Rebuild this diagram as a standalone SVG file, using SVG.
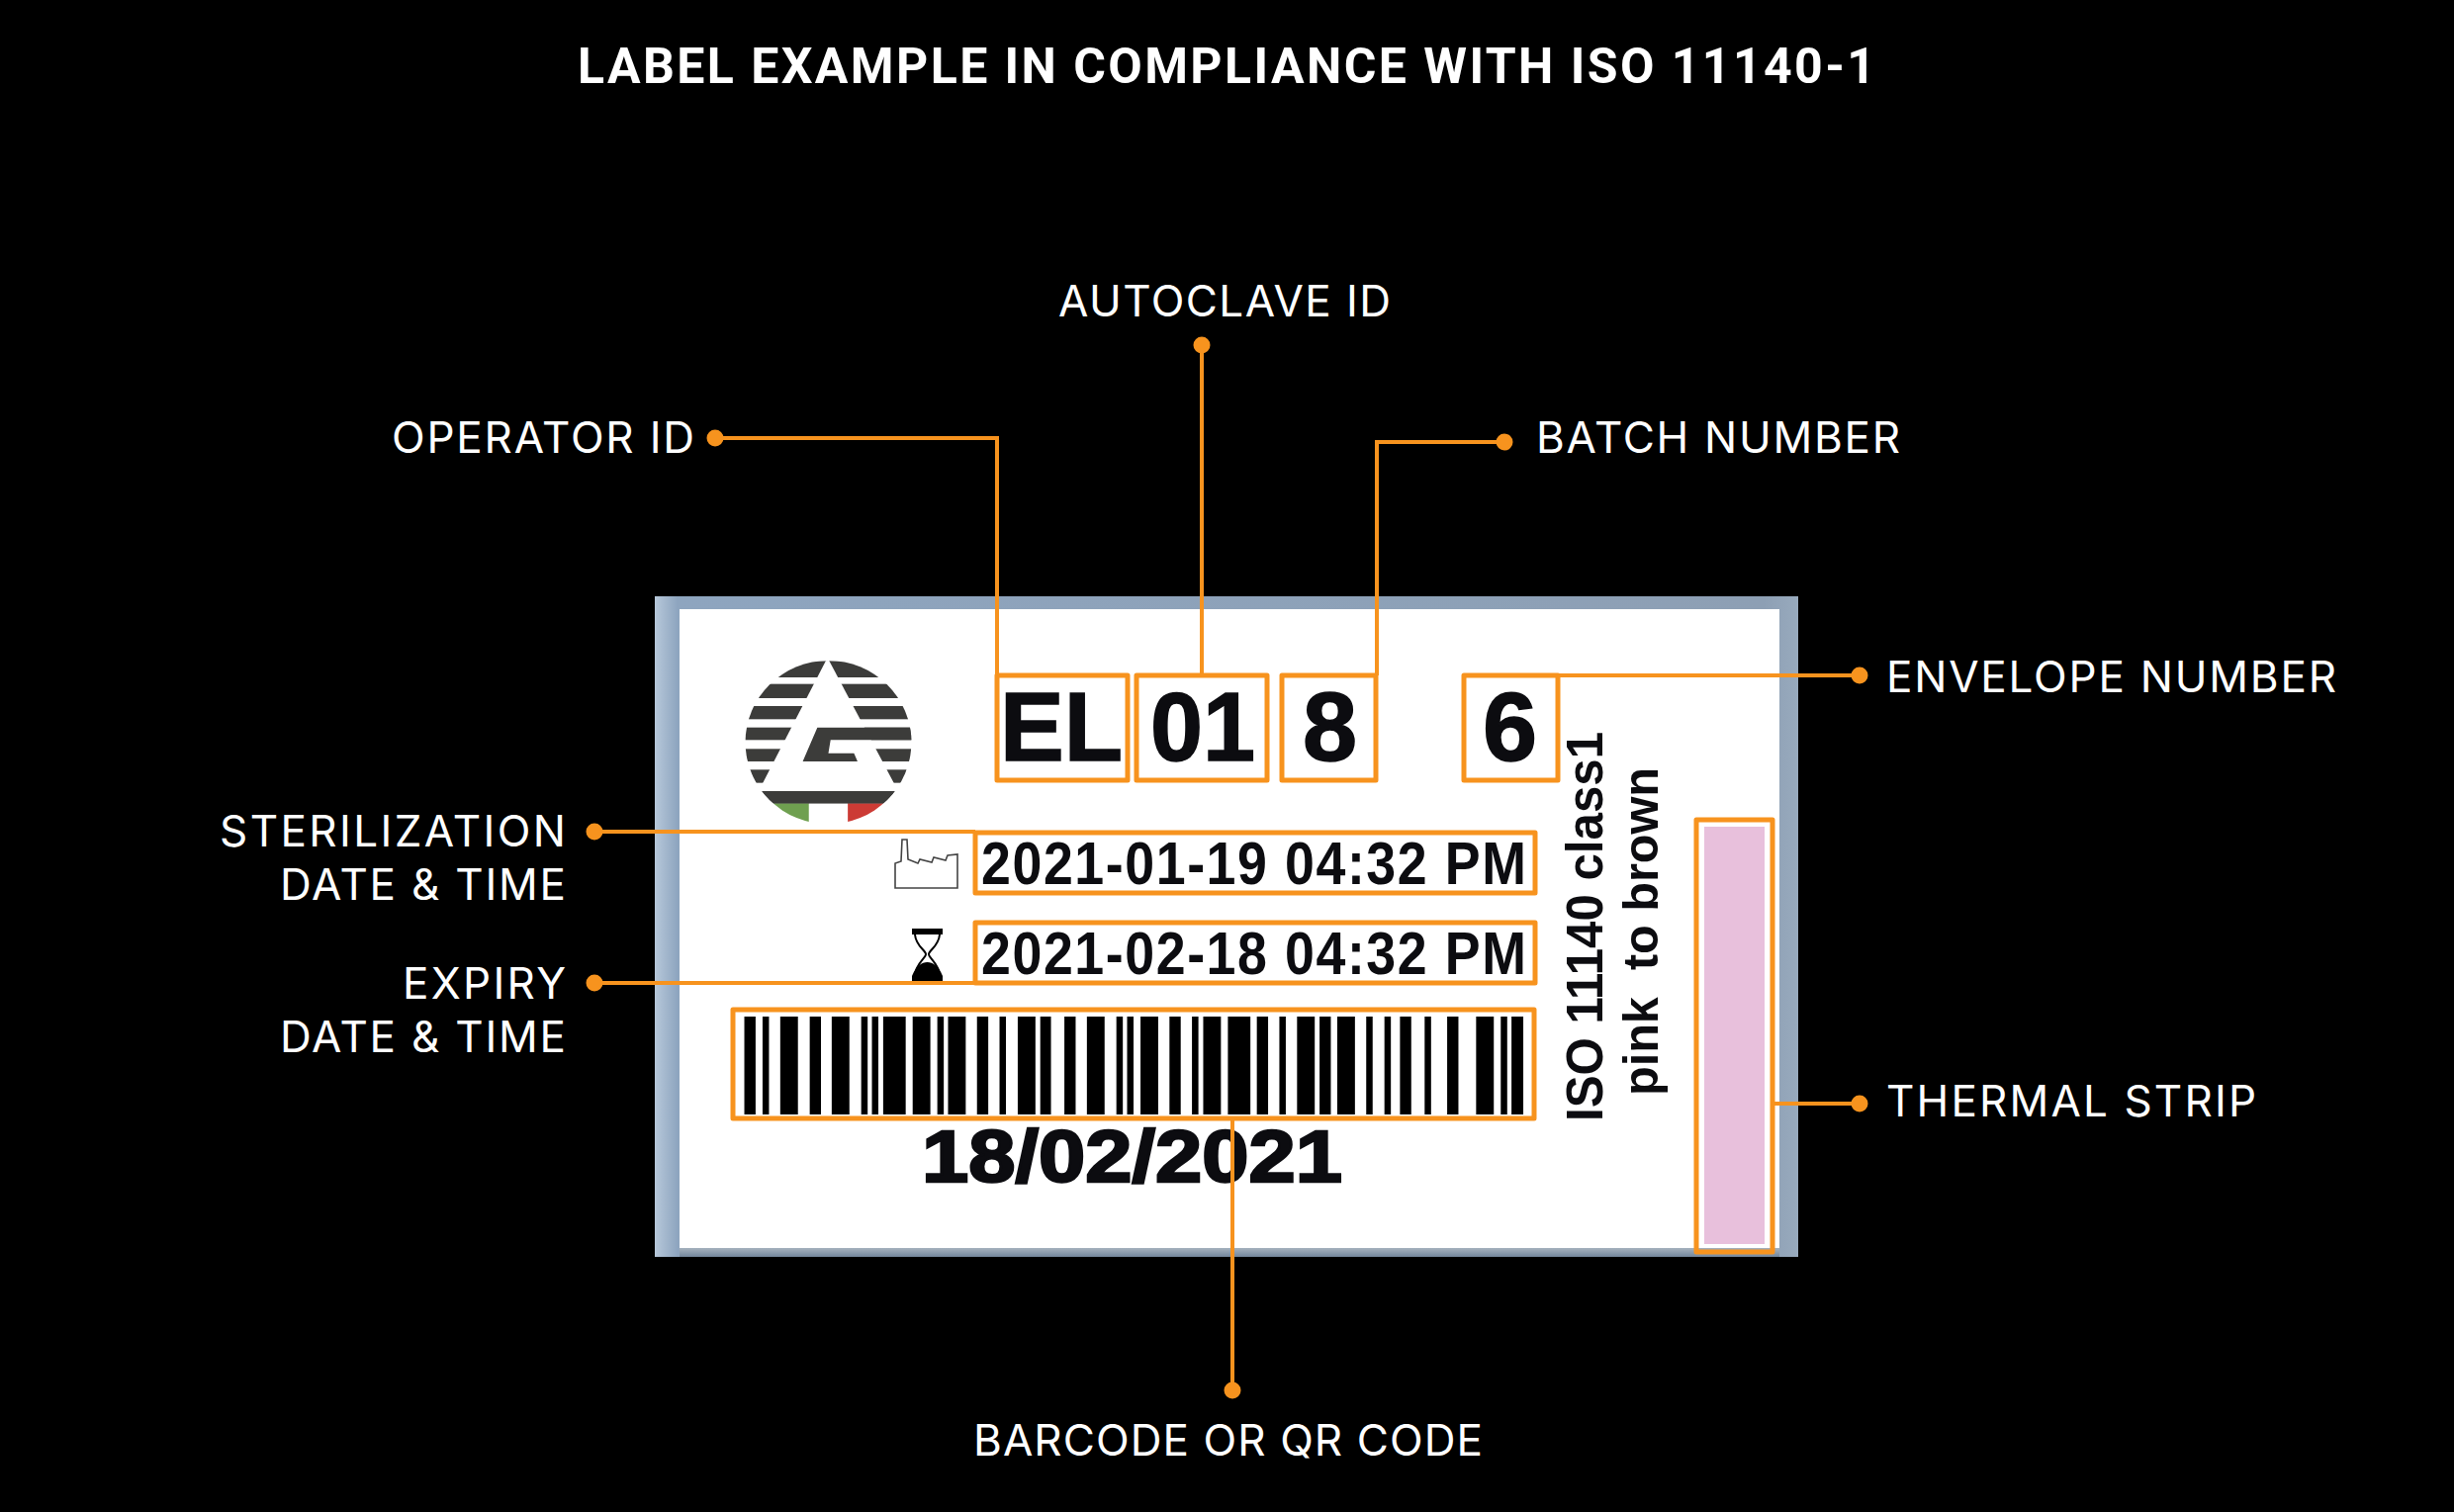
<svg xmlns="http://www.w3.org/2000/svg" width="2481" height="1529" viewBox="0 0 2481 1529">
<style>
.t{font-family:Inter,Roboto,"Liberation Sans",sans-serif;fill:#fff;font-size:44px;font-weight:400}
.h{font-family:Roboto,"Liberation Sans",sans-serif;fill:#fff;font-weight:700;font-size:50px}
.a{font-family:"Liberation Sans",Arial,sans-serif;font-weight:700;fill:#0c0c10}
.k{stroke:#0c0c10;stroke-width:1.5}
.b{fill:none;stroke:#f7931e;stroke-width:5;stroke-linejoin:round}
.l{fill:none;stroke:#f7931e;stroke-width:4}
.d{fill:#f7931e}
</style>
<defs>
<linearGradient id="frame" x1="0" x2="1" y1="0" y2="0"><stop offset="0" stop-color="#b7c8da"/><stop offset=".02" stop-color="#8ea5bf"/><stop offset=".97" stop-color="#8d9fb4"/><stop offset="1" stop-color="#98aabd"/></linearGradient>
<linearGradient id="bot" x1="0" x2="0" y1="0" y2="1"><stop offset="0" stop-color="#a6b2be"/><stop offset="1" stop-color="#74879c"/></linearGradient>
<clipPath id="lc"><ellipse cx="420" cy="482" rx="188" ry="248"/></clipPath>
</defs>
<rect width="2481" height="1529" fill="#000"/>
<text class="h" x="584" y="84" textLength="1312">LABEL EXAMPLE IN COMPLIANCE WITH ISO 11140-1</text>

<g id="label-card">
<rect x="662" y="603" width="1156" height="668" fill="url(#frame)"/>
<rect x="687" y="1262" width="1112" height="9" fill="url(#bot)"/>
<rect x="687" y="616" width="1112" height="646" fill="#fff"/>
<g id="logo" transform="translate(650 590) scale(.4464 .3333)">
<g clip-path="url(#lc)">
<g fill="#3c3c3a">
<rect x="200" y="235" width="440" height="50"/><rect x="200" y="305" width="440" height="43"/><rect x="200" y="372" width="440" height="40"/><rect x="200" y="437" width="440" height="38"/><rect x="200" y="502" width="440" height="38"/><rect x="200" y="565" width="440" height="40"/><rect x="200" y="630" width="440" height="38"/>
</g>
<path fill="#fff" d="M418 225 L262 630 H578 Z"/>
<path fill="#3c3c3a" d="M395 437H620V475H425L420 515H478L486 540H362Z"/>
<rect x="200" y="630" width="440" height="38" fill="#3c3c3a"/>
<rect x="200" y="668" width="176" height="70" fill="#6fa050"/>
<rect x="376" y="668" width="88" height="70" fill="#fff"/>
<rect x="464" y="668" width="176" height="70" fill="#cc3b35"/>
</g>
</g>
<path id="factory" fill="none" stroke="#444" stroke-width="1.6" d="M905 898V873L911 871 912 849H917L918 869 928 873 930 869 942 872 944 867 956 870 958 865 968 864V898Z"/>
<g id="hourglass" transform="translate(922 939)">
<rect x="0" y="0" width="31" height="6" fill="#000"/>
<path d="M3 6C4 18 14 22 14 26C14 30 3 36 3 48M28 6C27 18 17 22 17 26C17 30 28 36 28 48" fill="none" stroke="#000" stroke-width="2"/>
<path d="M0 53V48C4 38 10 34 15.500 34C21 34 27 38 31 48V53Z" fill="#000"/>
</g>
<text class="a k" x="1011" y="769" font-size="99" textLength="124" lengthAdjust="spacingAndGlyphs">EL</text>
<text class="a k" x="1163" y="769" font-size="99" textLength="106" lengthAdjust="spacingAndGlyphs">01</text>
<text class="a k" x="1317" y="769" font-size="99">8</text>
<text class="a k" x="1499" y="769" font-size="99">6</text>
<text class="a" transform="translate(992 894) scale(.88 1)" font-size="61" textLength="626">2021-01-19 04:32 PM</text>
<text class="a" transform="translate(992 985) scale(.88 1)" font-size="61" textLength="626">2021-02-18 04:32 PM</text>
<text class="a" x="932" y="1195" font-size="74" textLength="425" lengthAdjust="spacingAndGlyphs" stroke="#0c0c10" stroke-width="2.500">18/02/2021</text>
<text class="a" transform="translate(1620 1134) rotate(-90)" font-size="52" textLength="394" lengthAdjust="spacingAndGlyphs">ISO 11140 class1</text>
<text class="a" transform="translate(1676 1108) rotate(-90)" font-size="50" textLength="332" lengthAdjust="spacingAndGlyphs" xml:space="preserve">pink  to brown</text>
<path id="barcode-bars" transform="translate(720 1028) scale(.542 1)" fill="#000" d="M60 0h21v99h-21zM94 0h12v99h-12zM127 0h33v99h-33zM182 0h21v99h-21zM223 0h33v99h-33zM278 0h12v99h-12zM298 0h12v99h-12zM319 0h42v99h-42zM374 0h33v99h-33zM420 0h12v99h-12zM440 0h33v99h-33zM494 0h21v99h-21zM536 0h12v99h-12zM570 0h33v99h-33zM612 0h20v99h-20zM657 0h21v99h-21zM699 0h33v99h-33zM754 0h12v99h-12zM774 0h12v99h-12zM799 0h33v99h-33zM853 0h21v99h-21zM895 0h12v99h-12zM916 0h33v99h-33zM962 0h42v99h-42zM1016 0h21v99h-21zM1058 0h12v99h-12zM1091 0h33v99h-33zM1133 0h21v99h-21zM1166 0h33v99h-33zM1220 0h12v99h-12zM1254 0h12v99h-12zM1283 0h21v99h-21zM1329 0h12v99h-12zM1371 0h21v99h-21zM1425 0h33v99h-33zM1471 0h12v99h-12zM1491 0h22v99h-22z"/>
<rect id="thermal-patch" x="1723" y="836" width="61" height="422" fill="#e8c0dc"/>
</g>

<g id="callouts">
<rect class="b" x="1008" y="683" width="132" height="106"/>
<rect class="b" x="1149" y="683" width="132" height="106"/>
<rect class="b" x="1296" y="683" width="95" height="106"/>
<rect class="b" x="1480" y="683" width="95" height="106"/>
<rect class="b" x="986" y="842" width="566" height="61"/>
<rect class="b" x="986" y="933" width="566" height="61"/>
<rect class="b" x="741" y="1021" width="810" height="110"/>
<rect class="b" x="1715" y="829" width="77" height="437"/>
</g>

<g id="connectors">
<path class="l" d="M723 443H1008V683"/>
<path class="l" d="M1215 349V683"/>
<path class="l" d="M1521 447H1392V683"/>
<path class="l" d="M1880 683H1575"/>
<path class="l" d="M601 841H986"/>
<path class="l" d="M601 994H986"/>
<path class="l" d="M1880 1116H1792"/>
<path class="l" stroke-width="3.500" d="M1246 1405V1131"/>
<circle class="d" cx="723" cy="443" r="8.500"/>
<circle class="d" cx="1215" cy="349" r="8.500"/>
<circle class="d" cx="1521" cy="447" r="8.500"/>
<circle class="d" cx="1880" cy="683" r="8.500"/>
<circle class="d" cx="601" cy="841" r="8.500"/>
<circle class="d" cx="601" cy="994" r="8.500"/>
<circle class="d" cx="1880" cy="1116" r="8.500"/>
<circle class="d" cx="1246" cy="1406" r="8.500"/>
</g>

<g id="node-autoclave"><text class="t" x="1070" y="320" textLength="336">AUTOCLAVE ID</text></g>
<g id="node-operator"><text class="t" x="396" y="458" textLength="306">OPERATOR ID</text></g>
<g id="node-batch"><text class="t" x="1553" y="458" textLength="368">BATCH NUMBER</text></g>
<g id="node-envelope"><text class="t" x="1907" y="700" textLength="455">ENVELOPE NUMBER</text></g>
<g id="node-sterilization"><text class="t" x="222" y="856" textLength="350">STERILIZATION</text><text class="t" x="283" y="910" textLength="289">DATE &amp; TIME</text></g>
<g id="node-expiry"><text class="t" x="407" y="1010" textLength="165">EXPIRY</text><text class="t" x="283" y="1064" textLength="289">DATE &amp; TIME</text></g>
<g id="node-thermal"><text class="t" x="1907" y="1129" textLength="374">THERMAL STRIP</text></g>
<g id="node-barcode"><text class="t" x="984" y="1472" textLength="515">BARCODE OR QR CODE</text></g>
</svg>
